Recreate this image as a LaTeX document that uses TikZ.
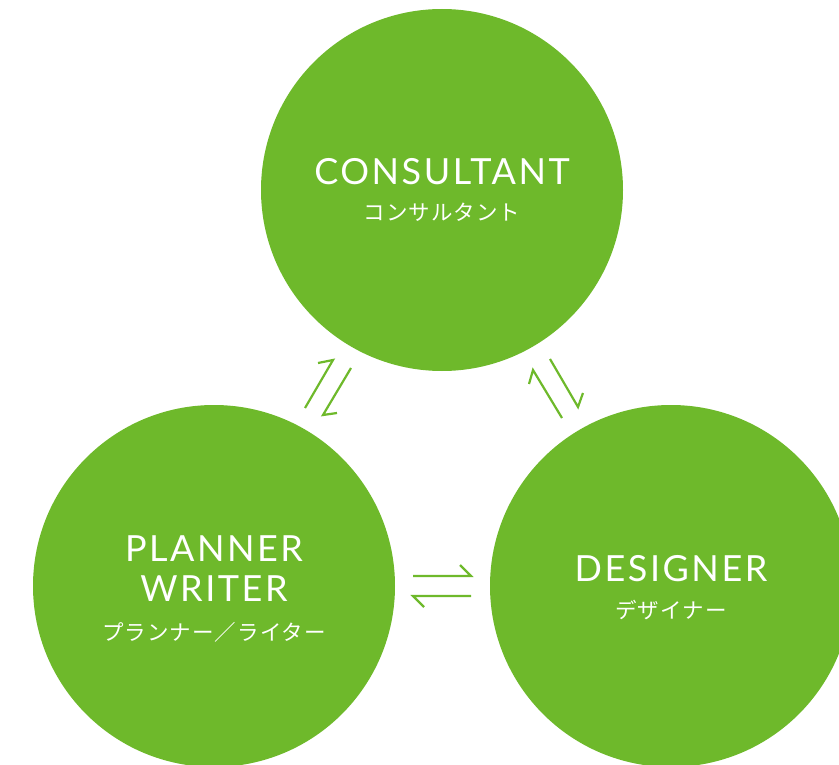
\documentclass[tikz,border=0pt]{standalone}
\usepackage{fontspec}
\setmainfont{Lato}
\newfontfamily\latinf[LetterSpace=7]{Lato}
\newfontfamily\cjk[LetterSpace=5]{Noto Sans CJK JP}
\definecolor{leaf}{HTML}{6EB92B}
\tikzset{
  bubble/.style={circle, fill=leaf, minimum size=362pt, inner sep=0pt},
  titletext/.style={text=white, anchor=base, font=\latinf\fontsize{36}{36}\selectfont},
  kanatext/.style={text=white, anchor=base, font=\cjk\fontsize{21.5}{21.5}\selectfont},
  harp/.style={draw=leaf, line width=2.2pt, line join=miter, line cap=butt}
}
\begin{document}
\begin{tikzpicture}[x=1pt,y=-1pt]
\useasboundingbox (0,0) rectangle (839,765);
\node[bubble] (top) at (442,190) {};
\node[bubble] (left) at (214,586) {};
\node[bubble] (right) at (671,586) {};

\node[titletext] (t1) at (442,185) {CONSULTANT};
\node[kanatext] (k1) at (442,221) {コンサルタント};
\node[titletext] (t2) at (671,581) {DESIGNER};
\node[kanatext] (k2) at (671,618) {デザイナー};
\node[titletext] (t3) at (214,561) {PLANNER};
\node[titletext] (t4) at (214,601) {WRITER};
\node[kanatext] (k3) at (214,640) {プランナー／ライター};

% left pair
\coordinate (l1a) at (305,408); \coordinate (l1b) at (333,360); \coordinate (l1c) at (318,363);
\coordinate (l2a) at (351,368); \coordinate (l2b) at (323,415); \coordinate (l2c) at (337,413);
\draw[harp] (l1a) -- (l1b) -- (l1c);
\draw[harp] (l2a) -- (l2b) -- (l2c);
% right pair
\coordinate (r1a) at (562,418); \coordinate (r1b) at (533,370); \coordinate (r1c) at (529,384);
\coordinate (r2a) at (550,359); \coordinate (r2b) at (578,407); \coordinate (r2c) at (583,393);
\draw[harp] (r1a) -- (r1b) -- (r1c);
\draw[harp] (r2a) -- (r2b) -- (r2c);
% bottom pair
\coordinate (b1a) at (413,576); \coordinate (b1b) at (471,576); \coordinate (b1c) at (460,565);
\coordinate (b2a) at (471,596); \coordinate (b2b) at (413,596); \coordinate (b2c) at (424,607);
\draw[harp] (b1a) -- (b1b) -- (b1c);
\draw[harp] (b2a) -- (b2b) -- (b2c);
\end{tikzpicture}
\end{document}
